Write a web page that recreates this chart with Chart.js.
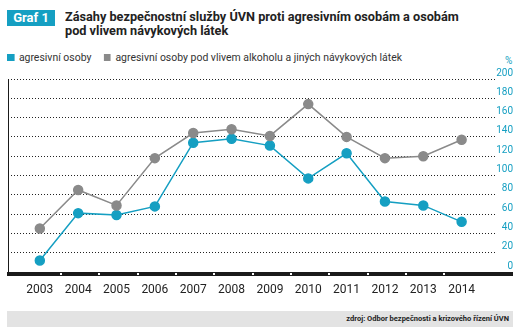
<!DOCTYPE html>
<html>
<head>
<meta charset="utf-8">
<script src="https://cdn.jsdelivr.net/npm/chart.js@4/dist/chart.umd.min.js"></script>
<style>
  body { margin: 0; width: 520px; height: 334px; position: relative; background: #fff; font-family: Roboto, "Open Sans", sans-serif; overflow: hidden; }
  #badge { position: absolute; left: 7px; top: 10px; width: 48px; height: 16px; background: #159fc2; color: #fff; font-weight: bold; font-size: 13px; line-height: 16px; text-align: center; }
  #title { position: absolute; left: 65px; top: 10px; font-weight: bold; font-size: 13.5px; line-height: 13.5px; color: #222; white-space: nowrap; transform-origin: 0 0; transform: scaleX(0.94); }
  #legend { position: absolute; left: 7px; top: 51px; font-size: 11px; color: #333; white-space: nowrap; transform-origin: 0 0; transform: scaleX(0.95); }
  #legend span.sw { display: inline-block; width: 7.5px; height: 7px; margin-right: 5px; vertical-align: 0px; }
  #legend span.item { margin-right: 10px; }
  #pct { position: absolute; left: 505px; top: 55px; font-size: 10px; color: #159fc2; }
  #wrap { position: absolute; left: 0; top: 60px; width: 520px; height: 250px; }
  #source { position: absolute; left: 7px; top: 311px; width: 506px; height: 16px; background: #e3e3e3; font-size: 7.5px; font-weight: bold; color: #222; text-align: right; line-height: 16px; box-sizing: border-box; padding-right: 4px; }
</style>
</head>
<body>
<div id="badge">Graf 1</div>
<div id="title">Zásahy bezpečnostní služby ÚVN proti agresivním osobám a osobám<br>pod vlivem návykových látek</div>
<div id="legend">
  <span class="item"><span class="sw" style="background:#159fc2"></span>agresivní osoby</span>
  <span class="item"><span class="sw" style="background:#8a8a8a"></span>agresivní osoby pod vlivem alkoholu a jiných návykových látek</span>
</div>
<div id="pct">%</div>
<div id="wrap"><canvas id="chart"></canvas></div>
<div id="source">zdroj: Odbor bezpečnosti a krizového řízení ÚVN</div>

<script>
// data

let years = ['2003', '2004', '2005', '2006', '2007', '2008', '2009', '2010', '2011', '2012', '2013', '2014'];
let aggressive = [12, 61, 59, 68, 134, 138, 131, 97, 123, 73, 69, 52];
let underInfluence = [45, 85, 69, 118, 144, 148, 141, 174, 140, 118, 120, 137];
let yTicks = [0, 20, 40, 60, 80, 100, 120, 140, 160, 180, 200];

let blue = '#159fc2';
let grey = '#8a8a8a';

function toPoints(values) {
    return values.map((v, i) => ({ x: i, y: v }));
}

// black base bar, white notches between years, left line
let axisDecor = {
    id: 'axisDecor',
    afterDraw(chart) {
        let ctx = chart.ctx;
        let area = chart.chartArea;
        let xs = chart.scales.x;
        let ys = chart.scales.y;
        let y0 = Math.round(ys.getPixelForValue(0));
        let yTop = ys.getPixelForValue(200);
        ctx.save();
        ctx.fillStyle = '#1a1a1a';
        ctx.fillRect(area.left, yTop, 1, y0 - yTop);
        ctx.fillRect(area.left - 1, y0, chart.width - 7 - area.left + 1, 4);
        ctx.fillStyle = '#ffffff';
        for (let i = 0; i < years.length - 1; i++) {
            let x = Math.round(xs.getPixelForValue(i + 0.5)) + 1;
            ctx.fillRect(x, y0 + 1, 2, 2);
        }
        ctx.restore();
    }
};

let chartCanvas = document.getElementById('chart').getContext('2d');

let myChart = new Chart(chartCanvas, {
    type: 'line',
    data: {
        datasets: [{
            label: 'agresivní osoby pod vlivem alkoholu a jiných návykových látek',
            data: toPoints(underInfluence),
            borderColor: grey,
            backgroundColor: grey,
            borderWidth: 1.5,
            pointRadius: 4.5,
            pointHoverRadius: 4.5,
            tension: 0
        }, {
            label: 'agresivní osoby',
            data: toPoints(aggressive),
            borderColor: blue,
            backgroundColor: blue,
            borderWidth: 1.5,
            pointRadius: 4.5,
            pointHoverRadius: 4.5,
            tension: 0
        }]
    },
    options: {
        responsive: true,
        maintainAspectRatio: false,
        animation: false,
        layout: {
            padding: { top: 19, left: 8, right: 7, bottom: 12 }
        },
        plugins: {
            legend: { display: false },
            tooltip: { enabled: false }
        },
        scales: {
            x: {
                type: 'linear',
                min: -0.83,
                max: 11.9,
                grid: { display: false, drawTicks: false },
                border: { display: false },
                afterBuildTicks: axis => {
                    axis.ticks = years.map((y, i) => ({ value: i }));
                },
                afterFit: axis => { axis.height = 26; },
                ticks: {
                    padding: 11,
                    color: '#222',
                    font: { family: 'Roboto', size: 12 },
                    callback: (value) => years[value] || ''
                }
            },
            y: {
                position: 'right',
                min: 0,
                max: 200,
                afterBuildTicks: axis => {
                    axis.ticks = yTicks.map(v => ({ value: v }));
                },
                grid: { color: '#222', lineWidth: 1, drawTicks: false },
                border: { display: false, dash: [1, 2] },
                ticks: {
                    padding: 0,
                    crossAlign: 'far',
                    labelOffset: -6,
                    color: blue,
                    font: { family: 'Roboto', size: 10 }
                }
            }
        }
    },
    plugins: [axisDecor]
});
</script>
</body>
</html>
